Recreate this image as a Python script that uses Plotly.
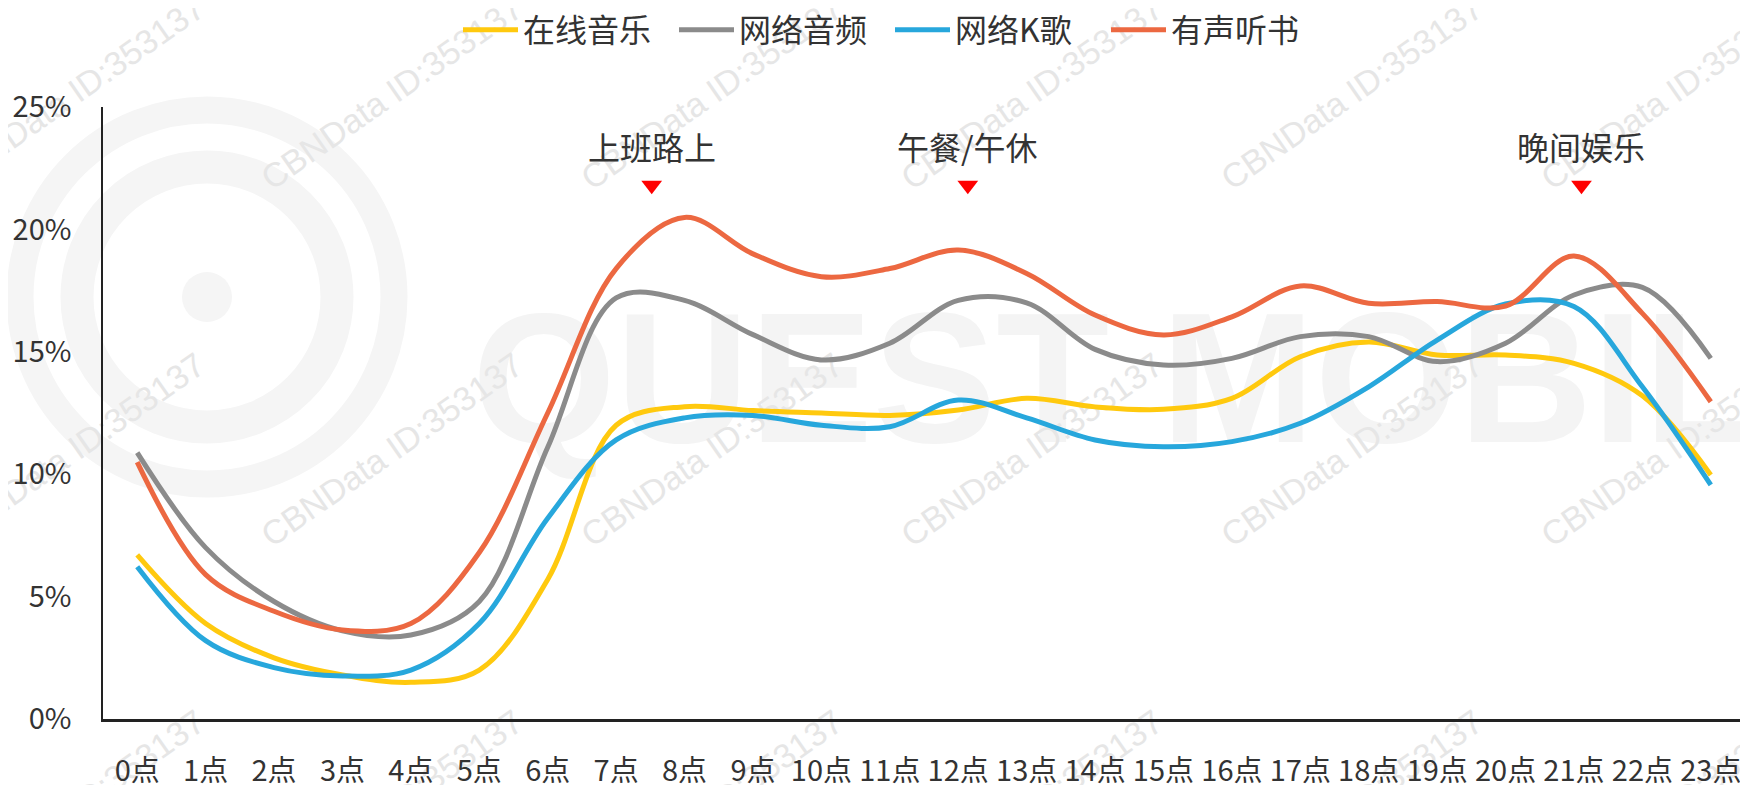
import plotly.graph_objects as go

hours = [f"{h}点" for h in range(24)]
series_names = ["在线音乐", "网络音频", "网络K歌", "有声听书"]

online_music = [6.7, 3.9, 2.5, 1.8, 1.5, 2.0, 5.7, 12.0, 12.76, 12.6, 12.5, 12.4,
                12.62, 13.1, 12.75, 12.65, 13.1, 14.8, 15.4, 14.87, 14.87, 14.53, 13.2, 9.97]
net_audio = [10.88, 7.0, 4.8, 3.6, 3.43, 4.8, 11.1, 17.2, 17.1, 15.7, 14.67, 15.35,
             17.1, 17.0, 15.1, 14.46, 14.73, 15.62, 15.62, 14.6, 15.35, 17.32, 17.63, 14.73]
karaoke = [6.22, 3.2, 2.1, 1.76, 2.0, 3.9, 8.2, 11.4, 12.3, 12.4, 12.0, 11.94,
           13.03, 12.3, 11.4, 11.12, 11.33, 12.08, 13.57, 15.48, 16.95, 16.85, 13.57, 9.56]
audiobook = [10.49, 5.9, 4.4, 3.64, 3.9, 6.8, 12.5, 18.4, 20.49, 19.0, 18.07, 18.4,
             19.16, 18.2, 16.5, 15.69, 16.43, 17.69, 16.98, 17.05, 16.87, 18.91, 16.57, 12.96]

colors = ["#FFC90E", "#8B8B8B", "#27A7DC", "#EC6841"]

event_labels = ["上班路上", "午餐/午休", "晚间娱乐"]
event_pos = [7.52, 12.14, 21.11]

y_ticks = [0, 5, 10, 15, 20, 25]

watermark_text = "CBNData ID:353137"
brand_text = "QUEST MOBILE"

FONT = "Noto Sans CJK SC"
xs = list(range(24))

# The page body adds an 8px offset; the figure is sized so that the plot area
# lands where it is in the 1748x785 reference.
OFF = 8
W, H = 1748 - OFF, 785 - OFF
L, R, T, B = 103 - OFF, 3, 107 - OFF, 66
PW, PH = W - L - R, H - T - B


def px_to_paper(px, py):
    """reference page pixels -> paper coordinates"""
    return (px - OFF - L) / PW, (H - B - (py - OFF)) / PH


shapes = []


def label_shape(cx, cy, text, size, color, angle, family="Arial", weight="normal"):
    x0, y0 = px_to_paper(cx - 5, cy + 5)
    x1, y1 = px_to_paper(cx + 5, cy - 5)
    shapes.append(dict(type="rect", xref="paper", yref="paper", x0=x0, x1=x1, y0=y0, y1=y1,
                       line=dict(width=0), fillcolor="rgba(0,0,0,0)", layer="below",
                       label=dict(text=text, textangle=angle, textposition="middle center",
                                  font=dict(size=size, color=color, family=family,
                                            weight=weight))))


def circle_shape(cx, cy, r, width, color, fill="rgba(0,0,0,0)"):
    x0, y0 = px_to_paper(cx - r, cy + r)
    x1, y1 = px_to_paper(cx + r, cy - r)
    shapes.append(dict(type="circle", xref="paper", yref="paper", x0=x0, x1=x1, y0=y0, y1=y1,
                       line=dict(width=width, color=color), fillcolor=fill, layer="below"))


# faint logo + brand watermark
LOGO = "#F5F5F5"
circle_shape(207, 297, 25, 0, LOGO, fill=LOGO)
circle_shape(207, 297, 130, 33, LOGO)
circle_shape(207, 297, 187, 27, LOGO)
label_shape(1176, 360, brand_text, 185, "#F4F4F4", 0, weight="bold")

# diagonal id watermark
wm_cols = [72, 390, 710, 1030, 1350, 1670]
wm_rows = [90, 447, 804]
for wy in wm_rows:
    for wx in wm_cols:
        label_shape(wx, wy, watermark_text, 34, "#E6E6E6", -35)

fig = go.Figure()
for name, vals, c in zip(series_names, [online_music, net_audio, karaoke, audiobook], colors):
    fig.add_trace(go.Scatter(
        x=xs, y=vals, name=name, mode="lines",
        line=dict(color=c, width=5, shape="spline", smoothing=1.0),
    ))

# event markers
fig.add_trace(go.Scatter(
    x=event_pos, y=[21.8] * len(event_pos), mode="markers",
    marker=dict(symbol="triangle-down", size=18, color="#FF0000"),
    showlegend=False, hoverinfo="skip",
))
for lab, p in zip(event_labels, event_pos):
    fig.add_annotation(x=p, y=23.4, text=lab, showarrow=False,
                       font=dict(size=32, color="#333333", family=FONT),
                       xanchor="center", yanchor="middle")

legend_cx, legend_cy = 890, 30  # reference page pixels
lx, ly = px_to_paper(legend_cx, legend_cy)

fig.update_layout(
    width=W, height=H,
    margin=dict(l=L, r=R, t=T, b=B, autoexpand=False),
    paper_bgcolor="white", plot_bgcolor="white",
    font=dict(family=FONT, size=29, color="#333333"),
    legend=dict(orientation="h", x=lx, xanchor="center",
                y=ly, yref="paper", yanchor="middle",
                font=dict(size=32, family=FONT, color="#333333"),
                itemwidth=55, entrywidth=146, entrywidthmode="pixels",
                tracegroupgap=0, itemclick=False, bgcolor="rgba(0,0,0,0)"),
    showlegend=True,
    shapes=shapes,
)
fig.update_xaxes(
    range=[-0.5, 23.5], tickmode="array", tickvals=xs, ticktext=hours,
    showline=True, linecolor="#222222", linewidth=2.5, showgrid=False,
    zeroline=False, ticks="", ticklabelstandoff=24, automargin=False,
    tickfont=dict(size=29, family=FONT, color="#333333"),
)
fig.update_yaxes(
    range=[0, 25], tickmode="array", tickvals=y_ticks,
    ticktext=[f"{v}%" for v in y_ticks],
    showline=True, linecolor="#222222", linewidth=1.5, showgrid=False,
    zeroline=False, ticks="", ticklabelstandoff=24, automargin=False,
    tickfont=dict(size=29, family=FONT, color="#333333"),
)

fig.write_html("out.html")
